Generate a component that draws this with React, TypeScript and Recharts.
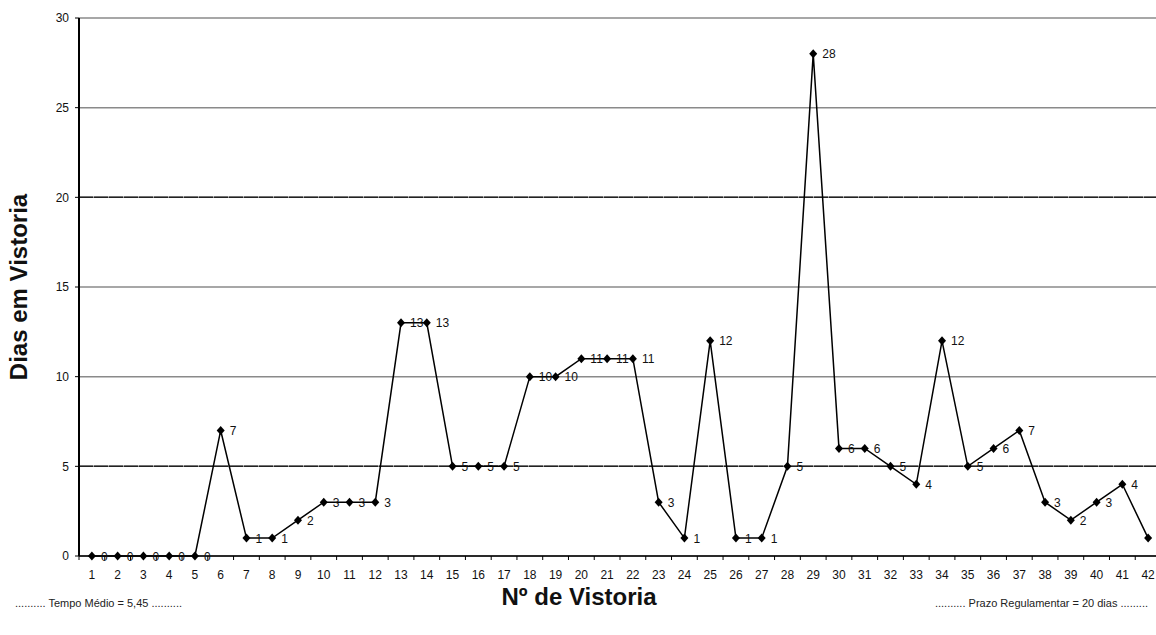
import { LineChart, Line, XAxis, YAxis, CartesianGrid, ReferenceLine, LabelList } from "recharts";

const vistorias = [
  1, 2, 3, 4, 5, 6, 7, 8, 9, 10, 11, 12, 13, 14, 15, 16, 17, 18, 19, 20, 21,
  22, 23, 24, 25, 26, 27, 28, 29, 30, 31, 32, 33, 34, 35, 36, 37, 38, 39, 40, 41, 42,
];
const dias = [
  0, 0, 0, 0, 0, 7, 1, 1, 2, 3, 3, 3, 13, 13, 5, 5, 5, 10, 10, 11, 11,
  11, 3, 1, 12, 1, 1, 5, 28, 6, 6, 5, 4, 12, 5, 6, 7, 3, 2, 3, 4, 1,
];
const yTicks = [0, 5, 10, 15, 20, 25, 30];
const tempoMedio = 5; // drawn on the 5 line in the original
const prazo = 20;

const data = vistorias.map((v, i) => ({ n: v, dias: dias[i] }));

// label ticks at each category plus tick marks between categories
const xTicks: number[] = [];
vistorias.forEach((v) => xTicks.push(v - 0.5, v));
xTicks.push(vistorias[vistorias.length - 1] + 0.5);

const FONT = "'Liberation Sans', Arial, sans-serif";

function XTick(props: any) {
  const { x, y, payload } = props;
  const v = payload.value;
  if (!Number.isInteger(v)) {
    return <line x1={x} x2={x} y1={y} y2={y + 4} stroke="#000" strokeWidth={1} />;
  }
  return (
    <text x={x} y={y + 23} textAnchor="middle" fontSize={12} fill="#111" fontFamily={FONT}>
      {v}
    </text>
  );
}

function Diamond(props: any) {
  const { cx, cy } = props;
  if (cx == null || cy == null) return null;
  return <path d={`M${cx},${cy - 4.5}L${cx + 4},${cy}L${cx},${cy + 4.5}L${cx - 4},${cy}Z`} fill="#000" />;
}

// value label to the right of each point; the last one falls off the page in the original
function PointLabel(props: any) {
  const { x, y, value, index } = props;
  if (index === dias.length - 1) return null;
  return (
    <text x={x + 9} y={y} dy={4.5} fontSize={12} fill="#111" fontFamily={FONT}>
      {value}
    </text>
  );
}

export default function App() {
  return (
    <div
      style={{
        position: "absolute",
        left: 0,
        top: 0,
        width: 1156,
        height: 635,
        overflow: "hidden",
        background: "#fff",
        fontFamily: FONT,
      }}
    >
      <LineChart width={1170} height={635} data={data} margin={{ top: 18, right: 9, bottom: 0, left: 0 }}>
        <CartesianGrid horizontal vertical={false} stroke="#8a8a8a" strokeWidth={1.5} />
        <ReferenceLine y={prazo} stroke="#222" strokeWidth={1.5} strokeDasharray="14 1" />
        <ReferenceLine y={tempoMedio} stroke="#222" strokeWidth={1.5} strokeDasharray="14 1" />
        <XAxis
          dataKey="n"
          type="number"
          domain={[0.5, 42.5]}
          ticks={xTicks}
          interval={0}
          tick={<XTick />}
          tickLine={false}
          tickSize={0}
          tickMargin={0}
          height={79}
          axisLine={{ stroke: "#000", strokeWidth: 1.5 }}
        />
        <YAxis
          type="number"
          domain={[0, 30]}
          ticks={yTicks}
          interval={0}
          width={79}
          tickSize={4}
          tickMargin={6}
          tick={{ fontSize: 12, fill: "#111", fontFamily: FONT }}
          tickLine={{ stroke: "#000" }}
          axisLine={{ stroke: "#000", strokeWidth: 2 }}
        />
        <Line
          dataKey="dias"
          stroke="#000"
          strokeWidth={1.5}
          dot={<Diamond />}
          activeDot={false}
          isAnimationActive={false}
        >
          <LabelList dataKey="dias" content={<PointLabel />} />
        </Line>
      </LineChart>
      <div
        style={{
          position: "absolute",
          left: 19,
          top: 287,
          transform: "translate(-50%, -50%) rotate(-90deg)",
          whiteSpace: "nowrap",
          fontWeight: "bold",
          fontSize: 24,
          color: "#111",
        }}
      >
        Dias em Vistoria
      </div>
      <div
        style={{
          position: "absolute",
          left: 579,
          top: 597,
          transform: "translate(-50%, -50%)",
          whiteSpace: "nowrap",
          fontWeight: "bold",
          fontSize: 24,
          color: "#111",
        }}
      >
        Nº de Vistoria
      </div>
      <div style={{ position: "absolute", left: 15, top: 597, fontSize: 11, color: "#222", whiteSpace: "nowrap" }}>
        .......... Tempo Médio = 5,45 ..........
      </div>
      <div style={{ position: "absolute", right: 8, top: 597, fontSize: 11, color: "#222", whiteSpace: "nowrap" }}>
        .......... Prazo Regulamentar = 20 dias .........
      </div>
    </div>
  );
}
